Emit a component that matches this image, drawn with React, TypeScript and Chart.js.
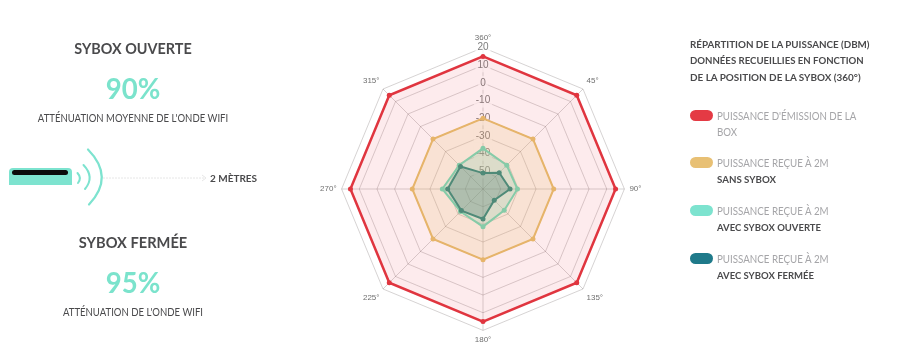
import React, { useEffect, useRef } from "react";
import { Chart, registerables } from "chart.js";

Chart.register(...registerables);

const angleLabels = ["360°", "45°", "90°", "135°", "180°", "225°", "270°", "315°"];
const emission = [15, 15, 15, 15, 15, 15, 15, 15];
const sansSybox = [-20, -20, -20, -20, -20, -20, -20, -20];
const sybOuverte = [-37, -41, -40.5, -43, -38.7, -42, -37, -41];
const sybFermee = [-51, -47, -44.7, -51, -43, -42.7, -40, -42];

const FONT = "Lato, 'Noto Sans', sans-serif";

type T = { text: string; x: number; y: number; size: number; weight?: number; color: string; anchor?: "c" | "l"; sx?: number };
const texts: T[] = [
  { text: "SYBOX OUVERTE", x: 133, y: 48, size: 16, weight: 700, color: "#4a4a4c", anchor: "c", sx: 0.9 },
  { text: "90%", x: 133, y: 87, size: 29, weight: 700, color: "#7be3cc", anchor: "c", sx: 0.95 },
  { text: "ATTÉNUATION MOYENNE DE L'ONDE WIFI", x: 133, y: 118, size: 10.5, color: "#4a4a4c", anchor: "c", sx: 0.91 },
  { text: "2 MÈTRES", x: 210, y: 178, size: 10, weight: 700, color: "#4a4a4c" },
  { text: "SYBOX FERMÉE", x: 133, y: 242, size: 16, weight: 700, color: "#4a4a4c", anchor: "c", sx: 0.915 },
  { text: "95%", x: 133, y: 281, size: 29, weight: 700, color: "#7be3cc", anchor: "c", sx: 0.95 },
  { text: "ATTÉNUATION DE L'ONDE WIFI", x: 133, y: 312, size: 10.5, color: "#4a4a4c", anchor: "c", sx: 0.91 },
  { text: "RÉPARTITION DE LA PUISSANCE (DBM)", x: 690, y: 44, size: 10, weight: 700, color: "#4a4a4c", sx: 0.98 },
  { text: "DONNÉES RECUEILLIES EN FONCTION", x: 690, y: 60, size: 10, weight: 700, color: "#4a4a4c", sx: 0.96 },
  { text: "DE LA POSITION DE LA SYBOX (360°)", x: 690, y: 76.5, size: 10, weight: 700, color: "#4a4a4c", sx: 0.99 },
  { text: "PUISSANCE D'ÉMISSION DE LA", x: 717, y: 115.5, size: 10.5, color: "#a5a5a8", sx: 0.925 },
  { text: "BOX", x: 717, y: 132, size: 10.5, color: "#a5a5a8", sx: 0.925 },
  { text: "PUISSANCE REÇUE À 2M", x: 717, y: 163, size: 10.5, color: "#a5a5a8", sx: 0.93 },
  { text: "SANS SYBOX", x: 717, y: 179, size: 10, weight: 700, color: "#4a4a4c", sx: 0.97 },
  { text: "PUISSANCE REÇUE À 2M", x: 717, y: 211, size: 10.5, color: "#a5a5a8", sx: 0.93 },
  { text: "AVEC SYBOX OUVERTE", x: 717, y: 227, size: 10, weight: 700, color: "#4a4a4c", sx: 0.95 },
  { text: "PUISSANCE REÇUE À 2M", x: 717, y: 258.7, size: 10.5, color: "#a5a5a8", sx: 0.93 },
  { text: "AVEC SYBOX FERMÉE", x: 717, y: 274.6, size: 10, weight: 700, color: "#4a4a4c", sx: 0.95 },
];
const pills = [
  { y: 110, color: "#e43a44" },
  { y: 157, color: "#e8c074" },
  { y: 205, color: "#7de3cf" },
  { y: 252.5, color: "#1f7a8a" },
];

export default function App() {
  const ref = useRef<HTMLCanvasElement>(null);
  useEffect(() => {
    const chart = new Chart(ref.current!, {
      type: "radar",
      data: {
        labels: angleLabels,
        datasets: [
          { label: "Émission", data: emission, order: 4, borderColor: "#e0353f", backgroundColor: "rgba(232,60,80,0.1)", borderWidth: 2.5, pointRadius: 2.5, pointBackgroundColor: "#e0353f", pointBorderWidth: 0, fill: "start" },
          { label: "Sans Sybox", data: sansSybox, order: 3, borderColor: "#e6b46a", backgroundColor: "rgba(232,190,110,0.2)", borderWidth: 2, pointRadius: 2.5, pointBackgroundColor: "#e6b46a", pointBorderWidth: 0, fill: "start" },
          { label: "Sybox ouverte", data: sybOuverte, order: 2, borderColor: "#86cba8", backgroundColor: "rgba(135,205,170,0.25)", borderWidth: 2, pointRadius: 2.5, pointBackgroundColor: "#86cba8", pointBorderWidth: 0, fill: "start" },
          { label: "Sybox fermée", data: sybFermee, order: 1, borderColor: "#4f8a78", backgroundColor: "rgba(70,120,110,0.3)", borderWidth: 2, pointRadius: 2.5, pointBackgroundColor: "#4f8a78", pointBorderWidth: 0, fill: "start" },
        ],
      },
      options: {
        responsive: false,
        animation: false,
        layout: { padding: { top: 33, bottom: 7, left: 0, right: 0 } },
        plugins: { legend: { display: false }, tooltip: { enabled: false } },
        elements: { line: { tension: 0 } },
        scales: {
          r: {
            min: -60,
            max: 20,
            ticks: {
              stepSize: 10,
              color: "#7d7d7d",
              showLabelBackdrop: (c: any) => c.index !== 0,
              font: { family: "'Liberation Sans', Arial, sans-serif", size: 10 },
              callback: (v: any) => (v === -60 ? "" : String(v)),
            },
            grid: { color: "rgba(90,80,80,0.25)" },
            angleLines: { color: "rgba(90,80,80,0.25)" },
            pointLabels: { color: "#6f6f6f", padding: -2, font: { family: "'Liberation Sans', Arial, sans-serif", size: 8 } },
          },
        },
      },
    });
    return () => chart.destroy();
  }, []);

  return (
    <div style={{ position: "absolute", left: 0, top: 0, width: 898, height: 353, overflow: "hidden", background: "#fff", fontFamily: FONT, filter: "blur(0.35px)" }}>
      <canvas ref={ref} width={370} height={353} style={{ position: "absolute", left: 298, top: 0, width: 370, height: 353 }} />
      <svg width={898} height={353} style={{ position: "absolute", left: 0, top: 0 }}>
        <line x1={103} y1={178} x2={205} y2={178} stroke="#e6e6e6" strokeWidth={1} strokeDasharray="2 1" />
        <path d="M202 175 L206 178 L202 181" fill="none" stroke="#e6e6e6" strokeWidth={1} />
        <path d="M9 172 Q9 168 13 168 L68 168 Q72 168 72 172 L72 185 L9 185 Z" fill="#7de3cf" />
        <rect x={12} y={170} width={56} height={5} rx={2.5} fill="#0b0b0b" />
        <path d="M77.5 173 Q82 178 78 183" fill="none" stroke="#7de3cf" strokeWidth={2} strokeLinecap="round" />
        <path d="M83.5 165 Q95 177 85 189" fill="none" stroke="#7de3cf" strokeWidth={2} strokeLinecap="round" />
        <path d="M88 149.5 Q115 177 89 204.5" fill="none" stroke="#7de3cf" strokeWidth={2.2} strokeLinecap="round" />
      </svg>
      {pills.map((p, i) => (
        <div key={i} style={{ position: "absolute", left: 689.5, top: p.y, width: 23, height: 11, borderRadius: 6, background: p.color }} />
      ))}
      {texts.map((t, i) => (
        <div key={i} style={{ position: "absolute", left: t.x, top: t.y, transformOrigin: t.anchor === "c" ? "center" : "left center", transform: (t.anchor === "c" ? "translate(-50%,-50%)" : "translateY(-50%)") + ` scaleX(${t.sx ?? 1})`, fontSize: t.size, fontWeight: t.weight ?? 400, color: t.color, whiteSpace: "nowrap", lineHeight: 1 }}>
          {t.text}
        </div>
      ))}
    </div>
  );
}
